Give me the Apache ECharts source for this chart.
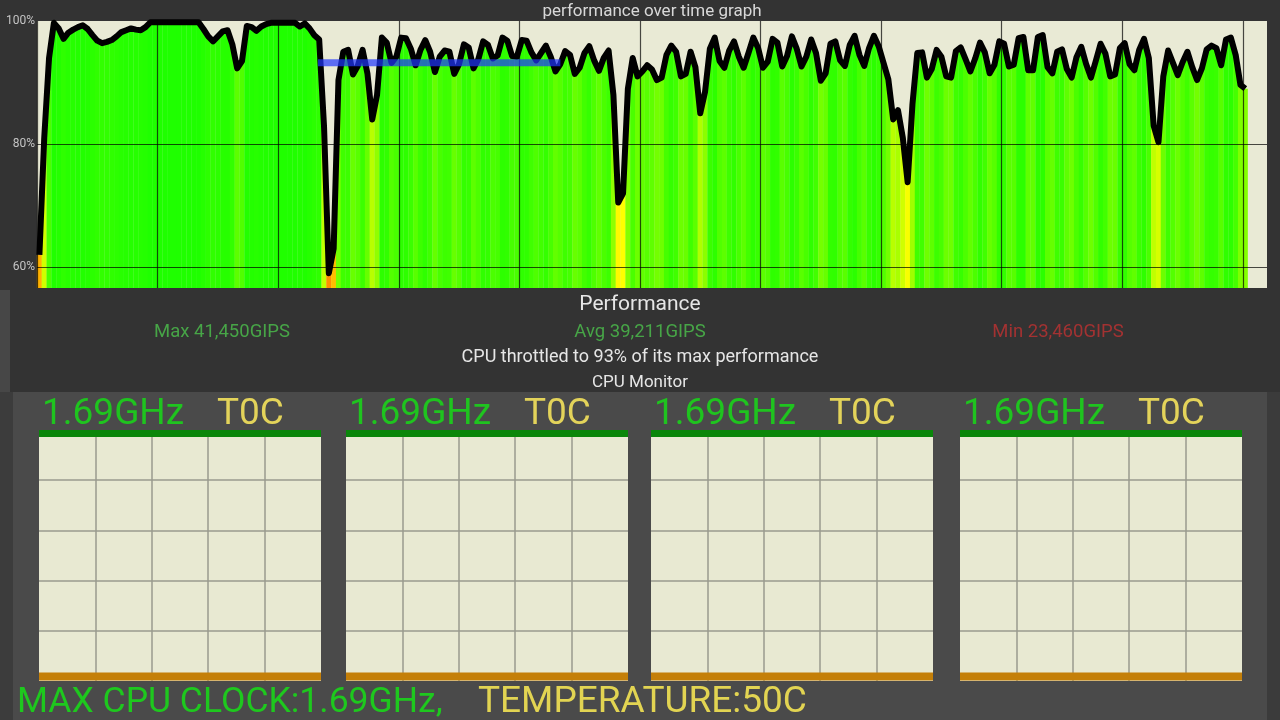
<!DOCTYPE html>
<html>
<head>
<meta charset="utf-8">
<script src="https://cdn.jsdelivr.net/npm/echarts@6/dist/echarts.min.js"></script>
<style>
html,body{margin:0;padding:0;background:#333333;}
#c{width:1280px;height:720px;}
</style>
</head>
<body>
<div id="c"></div>
<script>
// ---------- DATA ----------
const chartTitle = 'performance over time graph';
// time step between samples (x-axis units; one grid column = 10 units);
// each sample is plotted at the middle of its time slot
const perfStep = 0.4;
// performance in % of max
const perfValues = [
  62, 81, 94, 99.7, 98.8, 97.1, 98.1, 98.6, 99.0, 99.3,
  98.7, 97.7, 96.8, 96.4, 96.6, 96.9, 97.5, 98.2, 98.5, 98.8,
  98.6, 98.5, 99.0, 99.8, 99.8, 99.8, 99.8, 99.8, 99.8, 99.8,
  99.8, 99.8, 99.8, 99.8, 98.7, 97.5, 96.7, 97.5, 98.3, 98.5,
  96.2, 92.3, 93.5, 99.2, 99.0, 98.4, 99.1, 99.5, 99.7, 99.7,
  99.7, 99.7, 99.7, 99.7, 99.1, 99.6, 98.8, 97.7, 97.0, 83,
  59, 63, 90.4, 95, 95.3, 91.3, 92.7, 95.3, 91.5, 84,
  88, 97.3, 96.5, 93.2, 94.2, 97.3, 97.2, 95.5, 92.8, 95.3,
  96.9, 95, 91.7, 94.2, 95.2, 95, 91.4, 93, 96.2, 95.7,
  92.3, 93.8, 96.7, 96.1, 93.9, 94.4, 97.3, 96.8, 94.3, 94.2,
  96.9, 96.8, 94.9, 93.6, 94.8, 96, 94.2, 91.8, 93, 95.1,
  94.5, 91.4, 92.4, 94.8, 95.9, 93.6, 91.9, 94, 95.2, 88,
  70.5, 72, 89, 94, 91, 91.8, 92.8, 92.1, 90.4, 90.8,
  94.5, 96, 95, 91, 91.4, 95, 92.5, 85, 88.5, 95.5,
  97.3, 93.5, 92.4, 95.2, 96.7, 94.2, 92.4, 94.8, 97.3, 95.6,
  92.4, 93.4, 97.1, 96.5, 92.6, 94.3, 97.5, 95.5, 92.6, 94.2,
  97, 94.8, 90.3, 91.5, 96.3, 96.7, 93.6, 92.7, 96.1, 97.6,
  94.5, 92.7, 95.6, 97.6, 95.9, 93.2, 90.5, 84, 85.5, 81,
  73.8, 86.5, 94.8, 94.9, 90.8, 92.2, 95.3, 94.2, 91, 90.8,
  95.1, 95.7, 93.8, 91.8, 93.9, 96.5, 94.9, 91.5, 92.9, 96.7,
  96.3, 92.6, 92.9, 97.2, 97.4, 92, 92, 97.4, 97.7, 92.5,
  91.5, 95, 95.4, 92.2, 90.8, 94.1, 95.8, 93, 90.8, 93.5,
  96.3, 94.7, 91, 91.3, 95.6, 96.4, 93, 92, 95.3, 97.1,
  94, 83, 80.3, 91, 95.2, 93.2, 91.2, 93.3, 95, 92.5,
  90.4, 92.3, 95.4, 96, 95.6, 92.8, 97, 97.3, 94.5, 89.6,
  89
];
const xAxisMax = 102;
const xGridStep = 10;
const yAxisMin = 56.6;      // = min performance (23,460 / 41,450)
const yAxisMax = 100;
const yGridValues = [60, 80];
const yLabelValues = [60, 80, 100];
// throttle level marker (blue bar)
const throttleLevel = 93.2;
const throttleStart = 23.3;
const throttleEnd = 43.4;

const perfHeading = 'Performance';
const statMax = 'Max 41,450GIPS';
const statAvg = 'Avg 39,211GIPS';
const statMin = 'Min 23,460GIPS';
const throttleText = 'CPU throttled to 93% of its max performance';
const monitorHeading = 'CPU Monitor';

// CPU monitor: 4 cores
const coreClockLabels = ['1.69GHz', '1.69GHz', '1.69GHz', '1.69GHz'];
const coreTempLabels = ['T0C', 'T0C', 'T0C', 'T0C'];
const coreTimes = [0, 1, 2, 3, 4, 5];
const coreFreqHistory = [100, 100, 100, 100, 100, 100]; // % of max clock
const coreTempHistory = [0, 0, 0, 0, 0, 0];
const footerClock = 'MAX CPU CLOCK:1.69GHz,';
const footerTemp = 'TEMPERATURE:50C';

// ---------- CHART ----------
const chart = echarts.init(document.getElementById('c'), null, {renderer: 'canvas', width: 1280, height: 720});
const perfData = perfValues.map((v, i) => [Math.round((i + 0.5) * perfStep * 100) / 100, v]);
const FONT = 'Roboto, "Noto Sans", sans-serif';

const grids = [{left: 37, right: 13, top: 21, bottom: 432, show: true, backgroundColor: '#e9ead5', borderWidth: 0}];
const gridLine = {color: 'rgba(0,0,0,0.7)', width: 1.2};
const xAxes = [{
  gridIndex: 0, type: 'value', min: 0, max: xAxisMax, interval: xGridStep, z: 5,
  axisLine: {show: false}, axisTick: {show: false}, axisLabel: {show: false},
  splitLine: {show: true, showMaxLine: false, lineStyle: gridLine}
}];
const yAxes = [{
  gridIndex: 0, type: 'value', min: yAxisMin, max: yAxisMax, z: 5,
  axisLine: {show: false},
  axisTick: {show: false, customValues: yGridValues},
  axisLabel: {customValues: yLabelValues, formatter: '{value}%', color: '#c4c4c4', fontFamily: FONT, fontSize: 12, margin: 2},
  splitLine: {show: true, lineStyle: gridLine}
}];
const series = [
  {type: 'bar', xAxisIndex: 0, yAxisIndex: 0, data: perfData, barWidth: '105%', z: 2, silent: true, itemStyle: {borderWidth: 0}},
  {type: 'line', xAxisIndex: 0, yAxisIndex: 0, data: perfData, symbol: 'none', z: 6, silent: true,
   lineStyle: {color: '#000000', width: 6, join: 'round'}},
  {type: 'line', xAxisIndex: 0, yAxisIndex: 0, data: [[throttleStart, throttleLevel], [throttleEnd, throttleLevel]],
   symbol: 'none', z: 7, silent: true, lineStyle: {color: '#1f36ff', width: 7, opacity: 0.7}}
];

const panelLefts = [39, 346, 651, 960];
const panelWidth = 282;
const miniLine = {color: '#9a9a8e', width: 1.5};
panelLefts.forEach((left, c) => {
  const gi = c + 1;
  grids.push({left: left, width: panelWidth, top: 430, height: 251, show: true, backgroundColor: '#e8e9d2', borderWidth: 0});
  xAxes.push({gridIndex: gi, type: 'value', min: 0, max: 5, interval: 1,
    axisLine: {show: false}, axisTick: {show: false}, axisLabel: {show: false},
    splitLine: {show: true, showMinLine: false, showMaxLine: false, lineStyle: miniLine}});
  yAxes.push({gridIndex: gi, type: 'value', min: 0, max: 100, interval: 20,
    axisLine: {show: false}, axisTick: {show: false}, axisLabel: {show: false},
    splitLine: {show: true, showMinLine: false, showMaxLine: false, lineStyle: miniLine}});
  yAxes.push({gridIndex: gi, type: 'value', min: -1.85, max: 101.44, show: false});
  const ly = yAxes.length - 1;
  series.push({type: 'line', xAxisIndex: gi, yAxisIndex: ly, symbol: 'none', silent: true, z: 5,
    data: coreTimes.map((t, k) => [t, coreFreqHistory[k]]), lineStyle: {color: '#0a860a', width: 7}});
  series.push({type: 'line', xAxisIndex: gi, yAxisIndex: ly, symbol: 'none', silent: true, z: 5,
    data: coreTimes.map((t, k) => [t, coreTempHistory[k]]), lineStyle: {color: '#c47f08', width: 8}});
});

function txt(text, x, y, size, fill, align) {
  return {type: 'text', x: x, y: y, z: 100, silent: true,
    style: {text: text, fill: fill, font: size + 'px ' + FONT,
      align: align || 'center', textAlign: align || 'center',
      verticalAlign: 'middle', textVerticalAlign: 'middle'}};
}
function rect(x, y, w, h, fill) {
  return {type: 'rect', z: -100, silent: true, shape: {x: x, y: y, width: w, height: h}, style: {fill: fill}};
}
const graphics = [
  rect(0, 290, 10, 102, '#474747'),
  rect(0, 392, 13, 328, '#3c3c3c'),
  rect(13, 392, 1254, 328, '#4a4a4a'),
  rect(1267, 392, 13, 328, '#3b3b3b'),
  txt(perfHeading, 640, 305, 21, '#e6e6e6'),
  txt(statMax, 222, 332, 18.5, '#47a547'),
  txt(statAvg, 640, 332, 18.5, '#47a547'),
  txt(statMin, 1058, 332, 18.5, '#a33232'),
  txt(throttleText, 640, 357, 18, '#e6e6e6'),
  txt(monitorHeading, 640, 383, 17, '#e6e6e6'),
  txt(footerClock, 17, 703, 35.5, '#1ec81e', 'left'),
  txt(footerTemp, 478, 703, 37, '#e2d452', 'left')
];
panelLefts.forEach((left, c) => {
  graphics.push(txt(coreClockLabels[c], left + 3, 415, 37, '#1fc41f', 'left'));
  graphics.push(txt(coreTempLabels[c], left + 178, 415, 37, '#e3d35a', 'left'));
});

chart.setOption({
  animation: false,
  backgroundColor: '#333333',
  title: {text: chartTitle, left: 652, top: 3, padding: 0, textAlign: 'center',
    textStyle: {color: '#d8d8d8', fontSize: 17, fontWeight: 'normal', fontFamily: FONT}},
  grid: grids,
  xAxis: xAxes,
  yAxis: yAxes,
  visualMap: [{
    type: 'continuous', show: false, seriesIndex: 0, dimension: 1, min: 56, max: 100,
    inRange: {color: ['#ff6a00', '#ff9a00', '#ffc800', '#ffee00', '#ffff00', '#f0ff00', '#d8ff00', '#b8ff00', '#90ff00', '#60ff00', '#34ff00', '#1eff00']}
  }],
  graphic: {elements: graphics},
  series: series
});
</script>
</body>
</html>
